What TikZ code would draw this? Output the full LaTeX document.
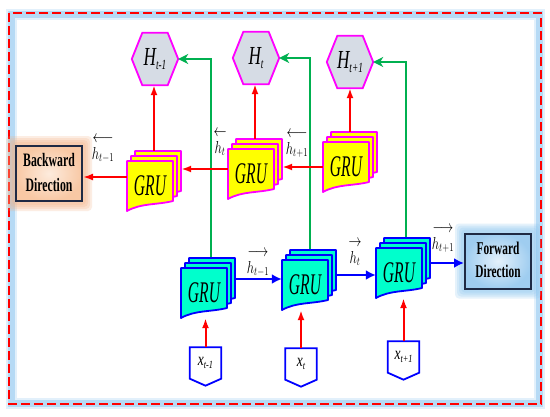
\documentclass[tikz,border=0pt]{standalone}
\usepackage{fontspec}
\setmainfont{Liberation Serif}
\usetikzlibrary{arrows.meta,calc,backgrounds}
\definecolor{gruyel}{HTML}{FFFF00}
\definecolor{grumag}{HTML}{FF00FF}
\definecolor{grucyan}{HTML}{00FFCC}
\definecolor{grublue}{HTML}{0000FF}
\definecolor{hexgray}{HTML}{D6DCE5}
\definecolor{arrred}{HTML}{FF0000}
\definecolor{arrgreen}{HTML}{00B050}
\definecolor{navy}{HTML}{1F2A44}
\definecolor{peachin}{HTML}{FDEBDD}
\definecolor{peachout}{HTML}{F8C8A4}
\definecolor{peachglow}{HTML}{F4B183}
\definecolor{skyin}{HTML}{E4F1FB}
\definecolor{skyout}{HTML}{9FCDF0}
\definecolor{skyglow}{HTML}{8CC6F0}
\newcommand\gruSheet[3]{\filldraw[sheet,fill=#2,draw=#3] #1 -- ++(46,0) -- ++(0,40) .. controls +(-16,4) and +(14,-8) .. ++(-46,10) -- cycle;}
\newcommand\gruword{\scalebox{0.52}[1]{\fontsize{30}{30}\selectfont\itshape GRU}}
\newcommand\gruStack[5]{%
  \gruSheet{(#2+8,#3-10)}{#4}{#5}
  \gruSheet{(#2+4,#3-5)}{#4}{#5}
  \gruSheet{(#2,#3)}{#4}{#5}
  \node[stackbox] (#1) at (#2+27,#3+20) {};
  \node[grutext] (#1t) at (#2+23,#3+25) {\gruword};
}
\newcommand\Hlab[1]{\scalebox{0.66}[1]{\fontsize{26}{26}\selectfont\itshape H\raisebox{-4pt}{\fontsize{14}{14}\selectfont #1}}}
\newcommand\Xlab[1]{\scalebox{0.75}[1]{\fontsize{18}{18}\selectfont\itshape x\raisebox{-3pt}{\fontsize{11}{11}\selectfont #1}}}
\newcommand\hlab[2]{\scalebox{0.75}[1]{\fontsize{17.28}{19}\selectfont\begin{tabular}{@{}c@{}}$#1$\\[-2pt]$#2$\end{tabular}}}
\newcommand\hexpath[1]{\path[hexshape] (#1.west) -- ($(#1.north west)+(10.5,0)$) -- ($(#1.north east)+(-10.5,0)$) -- (#1.east) -- ($(#1.south east)+(-10.5,0)$) -- ($(#1.south west)+(10.5,0)$) -- cycle;}
\newcommand\xpath[1]{\path[xshape] (#1.north west) -- (#1.north east) -- (#1.south east) -- ($(#1.south)+(0,7)$) -- (#1.south west) -- cycle;}
\newcommand\glowbox[2]{\foreach \s in {9,7,5,3}{\fill[#2,opacity=0.22,rounded corners=4pt] ($(#1.south west)+(-\s,\s)$) rectangle ($(#1.north east)+(\s,-\s)$);}}
\tikzset{
  sheet/.style={line width=1.8pt,line join=round},
  stackbox/.style={inner sep=0pt,minimum width=54pt,minimum height=60pt},
  grutext/.style={inner sep=0pt},
  hexnode/.style={inner sep=0pt,minimum width=46pt,minimum height=52pt},
  hexshape/.style={fill=hexgray,draw=grumag,line width=1.8pt,line join=miter},
  xnode/.style={inner sep=0pt,minimum width=31pt,minimum height=31pt},
  xshape/.style={fill=white,draw=grublue,line width=1.8pt,line join=miter},
  dirbox/.style={draw=navy,line width=2pt,minimum width=66pt,minimum height=55pt,inner sep=0pt},
  redarr/.style={draw=arrred,line width=2pt,-{Latex[length=10pt,width=7pt]}},
  bluearr/.style={draw=grublue,line width=2.6pt,-{Latex[length=10pt,width=10pt]}},
  greenarr/.style={draw=arrgreen,line width=1.5pt,-{Stealth[length=10pt,width=10pt,inset=3pt]}},
  lab/.style={inner sep=0pt},
}
\begin{document}
\begin{tikzpicture}[x=1pt,y=-1pt]
\useasboundingbox (0,0) rectangle (550,416);

% hexagon outputs
\node[hexnode] (H1) at (155,59) {\Hlab{t-1}};
\node[hexnode] (H2) at (256,58) {\Hlab{t}};
\node[hexnode] (H3) at (350,62) {\Hlab{t+1}};

% inputs
\node[xnode] (X1) at (205.5,363) {\raisebox{-4pt}{\Xlab{t-1}}};
\node[xnode] (X2) at (301,364) {\raisebox{-4pt}{\Xlab{t}}};
\node[xnode] (X3) at (403.5,357) {\raisebox{-4pt}{\Xlab{t+1}}};

% direction boxes
\node[dirbox,inner color=peachin,outer color=peachout] (BD) at (49,173.5)
  {\scalebox{0.62}[1]{\fontsize{19}{25}\selectfont\bfseries\begin{tabular}{@{}c@{}}Backward\\Direction\end{tabular}}};
\node[dirbox,inner color=skyin,outer color=skyout] (FD) at (498,261)
  {\scalebox{0.63}[1]{\fontsize{18}{23}\selectfont\bfseries\begin{tabular}{@{}c@{}}Forward\\Direction\end{tabular}}};

% GRU stacks
\gruStack{B1}{127}{161}{gruyel}{grumag}
\gruStack{B2}{228}{149}{gruyel}{grumag}
\gruStack{B3}{323}{142}{gruyel}{grumag}
\gruStack{F1}{181}{268}{grucyan}{grublue}
\gruStack{F2}{282}{260}{grucyan}{grublue}
\gruStack{F3}{376}{248}{grucyan}{grublue}

\begin{scope}[on background layer]
  \fill[white] (0,0) rectangle (550,416);
  % frame
  \draw[line width=11pt,skyglow,opacity=0.25] (11,14.5) rectangle (539.5,403);
  \draw[line width=7pt,skyglow,opacity=0.5] (11,14.5) rectangle (539.5,403);
  \draw[line width=2pt,arrred,dash pattern=on 9pt off 4pt] (9,13) rectangle (541,404);
  \glowbox{BD}{peachglow}
  \glowbox{FD}{skyglow}
  \hexpath{H1}\hexpath{H2}\hexpath{H3}
  \xpath{X1}\xpath{X2}\xpath{X3}
  % green skip connections
  \draw[greenarr] ($(F1.north)+(3,0)$) |- (H1.east);
  \draw[greenarr] ($(F2.north)+(1,0)$) |- (H2.east);
  \draw[greenarr] ($(F3.north)+(3,0)$) |- (H3.east);
\end{scope}

% backward arrows
\draw[redarr] (B1.north) -- (B1.north |- H1.south);
\draw[redarr] (B2.north) -- (B2.north |- H2.south);
\draw[redarr] (B3.north) -- (B3.north |- H3.south);
\draw[redarr] (B2.west) -- ($(B1.east)+(0,-12)$);
\draw[redarr] ($(B3.west)+(0,5)$) -- ($(B2.east)+(0,-2)$);
\draw[redarr] ($(B1.west)+(0,-4)$) -- ($(BD.east)+(0,3.5)$);

% forward arrows
\draw[bluearr] ($(F1.east)+(0,-9)$) -- ($(F2.west)+(0,-1)$);
\draw[bluearr] ($(F2.east)+(0,-5)$) -- ($(F3.west)+(0,7)$);
\draw[bluearr] ($(F3.east)+(0,-5)$) -- ($(FD.west)+(0,2)$);

% input arrows
\draw[redarr] (X1.north) -- (X1.north |- F1.south);
\draw[redarr] (X2.north) -- (X2.north |- F2.south);
\draw[redarr] (X3.north) -- (X3.north |- F3.south);

% hidden-state labels
\node[lab] (L1) at (103,147) {\hlab{\longleftarrow}{h_{t-1}}};
\node[lab] (L2) at (220,141) {\hlab{\leftarrow}{h_{t}}};
\node[lab] (L3) at (297,142) {\hlab{\longleftarrow}{h_{t+1}}};
\node[lab] (L4) at (258,261) {\hlab{\longrightarrow}{h_{t-1}}};
\node[lab] (L5) at (355,251) {\hlab{\rightarrow}{h_{t}}};
\node[lab] (L6) at (443,237) {\hlab{\longrightarrow}{h_{t+1}}};
\end{tikzpicture}
\end{document}
